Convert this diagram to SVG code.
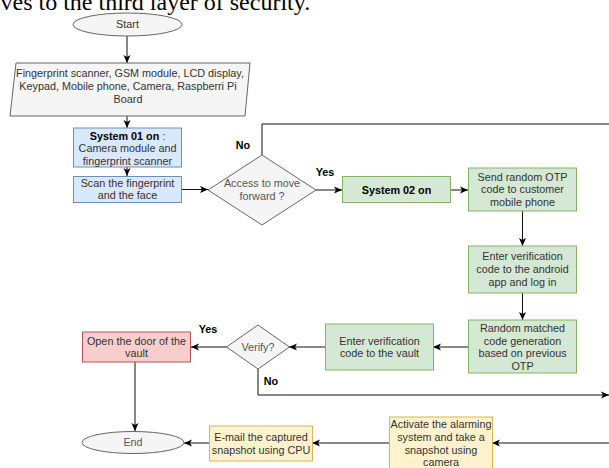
<svg xmlns="http://www.w3.org/2000/svg" width="609" height="468" viewBox="0 0 609 468">
<style>
text{font-family:"Liberation Sans",Arial,sans-serif;font-size:10.8px;fill:#333;text-anchor:middle}
.hdr{font-family:"Liberation Serif","Times New Roman",serif;font-size:24px;fill:#000;text-anchor:start}
.b{font-weight:bold;fill:#000}
.lbl{font-weight:bold;fill:#000;text-anchor:middle}
.dk{fill:#000}
.gray{fill:#f5f5f5;stroke:#666;stroke-width:1}
.blue{fill:#dae8fc;stroke:#6c8ebf;stroke-width:1}
.green{fill:#d5e8d4;stroke:#82b366;stroke-width:1}
.red{fill:#f8cecc;stroke:#b85450;stroke-width:1}
.yel{fill:#fff2cc;stroke:#d6b656;stroke-width:1}
.c{fill:none;stroke:#111;stroke-width:1}
.a{marker-end:url(#arr)}
</style>
<defs>
<marker id="arr" markerUnits="userSpaceOnUse" markerWidth="9" markerHeight="8" refX="8" refY="4" orient="auto">
<path d="M0,0.5 L8,4 L0,7.5 L2,4 z" fill="#000"/>
</marker>
</defs>
<text class="hdr" x="0.5" y="9.5">ves to the third layer of security.</text>

<g id="connectors">
<path class="c a" d="M127,36 V63"/>
<path class="c a" d="M127,116 V128"/>
<path class="c a" d="M127,167 V176"/>
<path class="c a" d="M181,189.5 H208"/>
<path class="c" d="M262,155 V124 H609"/>
<path class="c a" d="M316,190 H342"/>
<path class="c a" d="M451,190 H468"/>
<path class="c a" d="M522.5,211 V246"/>
<path class="c a" d="M522.5,293 V320"/>
<path class="c a" d="M468,347 H433"/>
<path class="c a" d="M325,347 H289"/>
<path class="c a" d="M227,347 H191"/>
<path class="c a" d="M258,369 V395 H609"/>
<path class="c a" d="M135,362 V431"/>
<path class="c a" d="M609,443 H492"/>
<path class="c a" d="M389,443 H312"/>
<path class="c a" d="M209,443 H184"/>
</g>
<g id="labels">
<text class="lbl" x="243" y="149">No</text>
<text class="lbl" x="325" y="175.5">Yes</text>
<text class="lbl" x="208" y="333">Yes</text>
<text class="lbl" x="271" y="385">No</text>
</g>

<g id="start">
<ellipse class="gray" cx="127.5" cy="24.5" rx="54.5" ry="11.5"/>
<text x="127.5" y="28.3">Start</text>
</g>
<g id="inputs">
<polygon class="gray" points="16,63 250,63 245,116 10,116"/>
<text x="130" y="77.1">Fingerprint scanner, GSM module, LCD display,</text>
<text x="128" y="89.8">Keypad, Mobile phone, Camera, Raspberri Pi</text>
<text x="128" y="103.1">Board</text>
</g>
<g id="system01">
<rect class="blue" x="73.5" y="128" width="108" height="39"/>
<text x="127.5" y="139.8"><tspan class="dk" font-weight="bold">System 01 on</tspan><tspan> :</tspan></text>
<text x="127.5" y="152.1">Camera module and</text>
<text x="127.5" y="164.5">fingerprint scanner</text>
</g>
<g id="scan">
<rect class="blue" x="73.5" y="176.5" width="108" height="26"/>
<text x="127.5" y="186.5">Scan the fingerprint</text>
<text x="127.5" y="198.8">and the face</text>
</g>
<g id="access">
<polygon class="gray" points="262,155 316,190 262,225 208,190"/>
<text x="262" y="186.5" fill="#555" style="fill:#555">Access to move</text>
<text x="262" y="199.8" style="fill:#555">forward ?</text>
</g>
<g id="system02">
<rect class="green" x="342.5" y="176.5" width="108" height="26"/>
<text class="b" x="396.5" y="193.6">System 02 on</text>
</g>
<g id="sendotp">
<rect class="green" x="468.5" y="168" width="108" height="43"/>
<text x="522.5" y="180.5">Send random OTP</text>
<text x="522.5" y="193.1">code to customer</text>
<text x="522.5" y="205.5">mobile phone</text>
</g>
<g id="enterapp">
<rect class="green" x="468.5" y="246" width="108" height="47"/>
<text x="522.5" y="259.8">Enter verification</text>
<text x="522.5" y="272.5">code to the android</text>
<text x="522.5" y="285.5">app and log in</text>
</g>
<g id="random">
<rect class="green" x="468.5" y="320" width="108" height="53"/>
<text x="522.5" y="332.1">Random matched</text>
<text x="522.5" y="344.8">code generation</text>
<text x="522.5" y="357.1">based on previous</text>
<text x="522.5" y="369.8">OTP</text>
</g>
<g id="entervault">
<rect class="green" x="325.5" y="324" width="108" height="46"/>
<text x="379.5" y="344.5">Enter verification</text>
<text x="379.5" y="357.1">code to the vault</text>
</g>
<g id="verify">
<polygon class="gray" points="258,325 289.5,347 258,369 226.5,347"/>
<text x="258" y="350.6" style="fill:#555">Verify?</text>
</g>
<g id="opendoor">
<rect class="red" x="82.5" y="332" width="108" height="30"/>
<text x="136.5" y="344.5">Open the door of the</text>
<text x="136.5" y="357.1">vault</text>
</g>
<g id="end">
<ellipse class="gray" cx="133" cy="442.5" rx="51" ry="11"/>
<text x="133" y="446.3" style="fill:#555">End</text>
</g>
<g id="email">
<rect class="yel" x="209.5" y="426" width="103" height="35"/>
<text x="261" y="440.5">E-mail the captured</text>
<text x="261" y="453.8">snapshot using CPU</text>
</g>
<g id="alarm">
<rect class="yel" x="389.5" y="417" width="103" height="56"/>
<text x="441" y="427.8">Activate the alarming</text>
<text x="441" y="440.5">system and take a</text>
<text x="441" y="453.8">snapshot using</text>
<text x="441" y="466">camera</text>
</g>
</svg>
